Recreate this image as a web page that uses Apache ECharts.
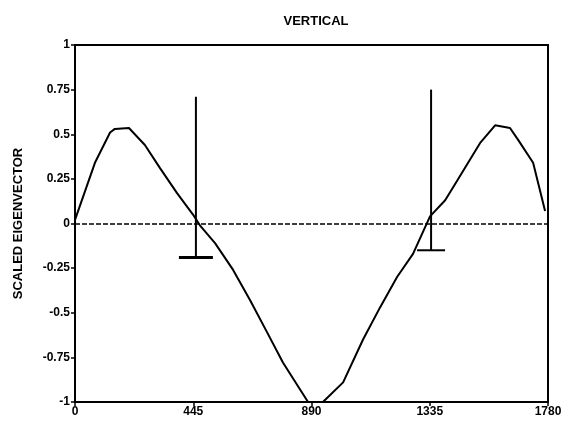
<!DOCTYPE html>
<html>
<head>
<meta charset="utf-8">
<script src="https://cdn.jsdelivr.net/npm/echarts@6/dist/echarts.min.js"></script>
<style>
  html, body { margin: 0; padding: 0; background: #fff; }
  #chart { width: 565px; height: 430px; }
</style>
</head>
<body>
<div id="chart"></div>
<script>
  // eigenvector curve, [position, scaled value]
  var curve = [
    [0, 0.02], [75, 0.34], [132, 0.51], [150, 0.53], [203, 0.535], [263, 0.44],
    [320, 0.31], [384, 0.17], [444, 0.05], [470, -0.01], [527, -0.11], [595, -0.26],
    [659, -0.43], [723, -0.61], [783, -0.78], [847, -0.93], [877, -1.0], [933, -1.0],
    [1009, -0.89], [1084, -0.65], [1148, -0.47], [1212, -0.30], [1272, -0.17],
    [1336, 0.04], [1393, 0.13], [1438, 0.24], [1524, 0.45], [1581, 0.55],
    [1637, 0.535], [1667, 0.47], [1724, 0.34], [1769, 0.07]
  ]
  // vertical markers, [position, top, bottom]
  var markers = [
    [455, 0.71, -0.19],
    [1340, 0.75, -0.15]
  ]
  var xTicks = [0, 445, 890, 1335, 1780]
  var yTicks = [-1, -0.75, -0.5, -0.25, 0, 0.25, 0.5, 0.75, 1]

  var chart = echarts.init(document.getElementById('chart'))
  var font = 'Liberation Sans'

  var options = {
    animation: false,
    title: {
      text: 'VERTICAL',
      left: 311,
      top: 10,
      textAlign: 'center',
      textStyle: { fontFamily: font, fontSize: 13, fontWeight: 'bold', color: '#000' }
    },
    grid: {
      left: 75,
      right: 17,
      top: 45,
      bottom: 28,
      outerBoundsMode: 'none',
      show: true,
      borderColor: '#000',
      borderWidth: 2
    },
    xAxis: {
      type: 'value',
      min: xTicks[0],
      max: xTicks[xTicks.length - 1],
      interval: 445,
      axisLine: { onZero: false, lineStyle: { color: '#000', width: 2 } },
      axisTick: { length: 4, lineStyle: { color: '#000', width: 1.5 } },
      splitLine: { show: false },
      axisLabel: {
        color: '#000', fontFamily: font, fontSize: 12, fontWeight: 'bold', margin: 4,
        formatter: function (v) { return xTicks.indexOf(v) >= 0 ? String(v) : '' }
      }
    },
    yAxis: {
      type: 'value',
      min: yTicks[0],
      max: yTicks[yTicks.length - 1],
      interval: 0.25,
      name: 'SCALED EIGENVECTOR',
      nameLocation: 'middle',
      nameGap: 50,
      nameTextStyle: { color: '#000', fontFamily: font, fontSize: 13, fontWeight: 'bold' },
      axisLine: { onZero: false, lineStyle: { color: '#000', width: 2 } },
      axisTick: { length: 4, lineStyle: { color: '#000', width: 1.5 } },
      splitLine: { show: false },
      axisLabel: {
        color: '#000', fontFamily: font, fontSize: 12, fontWeight: 'bold', margin: 5,
        formatter: function (v) { return String(v) }
      }
    },
    series: [
      {
        type: 'line',
        data: curve,
        symbol: 'none',
        lineStyle: { color: '#000', width: 2 },
        markLine: {
          silent: true,
          symbol: 'none',
          label: { show: false },
          lineStyle: { color: '#000', width: 1.5, type: [5, 2] },
          data: [{ yAxis: 0 }]
        }
      },
      {
        type: 'custom',
        data: markers,
        renderItem: function (params, api) {
          var top = api.coord([api.value(0), api.value(1)])
          var bot = api.coord([api.value(0), api.value(2)])
          var half = params.dataIndex === 0 ? 17 : 14
          var capW = params.dataIndex === 0 ? 3 : 2
          return {
            type: 'group',
            children: [
              {
                type: 'line',
                shape: { x1: top[0], y1: top[1], x2: bot[0], y2: bot[1] },
                style: { stroke: '#000', lineWidth: 2 }
              },
              {
                type: 'line',
                shape: { x1: bot[0] - half, y1: bot[1], x2: bot[0] + half, y2: bot[1] },
                style: { stroke: '#000', lineWidth: capW }
              }
            ]
          }
        }
      }
    ]
  }
  chart.setOption(options)
</script>
</body>
</html>
